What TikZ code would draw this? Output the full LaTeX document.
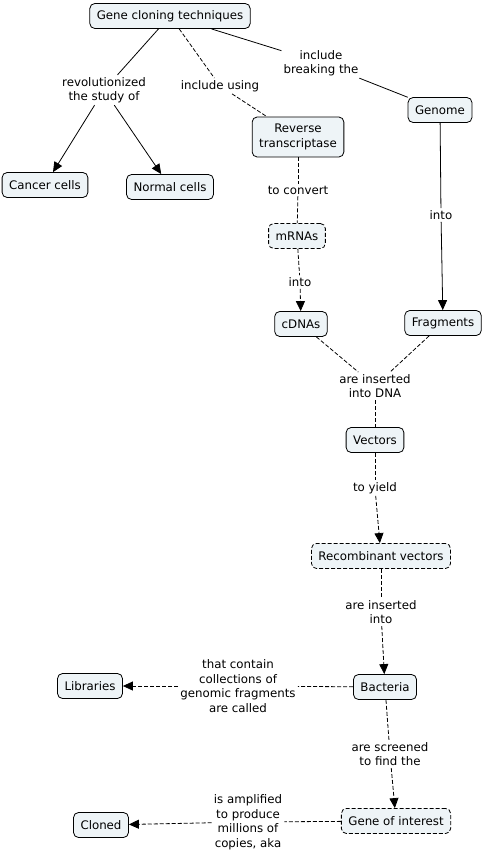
\documentclass[tikz,border=0pt]{standalone}
\usepackage{fontspec}
\setmainfont{DejaVu Sans}
\usepackage{tikz}
\usetikzlibrary{arrows.meta}
\usetikzlibrary{positioning}
\definecolor{conceptfill}{RGB}{238,244,247}
\begin{document}
\begin{tikzpicture}[x=1pt,y=-1pt,font=\fontsize{11.8pt}{14.5pt}\selectfont]
\tikzstyle{concept}=[draw,fill=conceptfill,rounded corners=5pt,line width=0.8pt,inner xsep=7pt,minimum height=25pt,align=center]
\tikzstyle{dconcept}=[concept,dash pattern=on 4pt off 2pt]
\tikzstyle{link}=[align=center,inner sep=2pt]
\tikzstyle{line}=[line width=0.8pt]
\tikzstyle{dline}=[line width=0.8pt,dash pattern=on 4pt off 2pt]
\tikzstyle{tip}=[-{Triangle[width=9pt,length=10pt]}]
\useasboundingbox (0,0) rectangle (485,853);
% concepts
\node[concept] (gene) at (170,16) {Gene cloning techniques};
\node[concept] (cancer) at (45,185) {Cancer cells};
\node[concept] (normal) at (170,187) {Normal cells};
\node[concept,minimum height=40pt] (rt) at (298,137) {Reverse\\transcriptase};
\node[concept] (genome) at (440,110) {Genome};
\node[dconcept] (mrna) at (297,236) {mRNAs};
\node[concept] (cdna) at (301,324) {cDNAs};
\node[concept] (frag) at (443,323) {Fragments};
\node[concept] (vect) at (375,440) {Vectors};
\node[dconcept] (recomb) at (381,556) {Recombinant vectors};
\node[concept] (bact) at (385,687) {Bacteria};
\node[concept] (lib) at (90,686) {Libraries};
\node[dconcept] (goi) at (396,821) {Gene of interest};
\node[concept] (cloned) at (101,825) {Cloned};
% linking phrases
\node[link] (revol) at (104,90) {revolutionized\\the study of};
\node[link] (using) at (220,86) {include using};
\node[link] (break) at (321,63) {include\\breaking the};
\node[link] (conv) at (298,190) {to convert};
\node[link] (into1) at (300,282) {into};
\node[link] (into2) at (441,215) {into};
\node[link] (dna) at (375,386) {are inserted\\into DNA};
\node[link] (yield) at (375,488) {to yield};
\node[link] (ins) at (381,612) {are inserted\\into};
\node[link] (contain) at (238,686) {that contain\\collections of\\genomic fragments\\are called};
\node[link] (screen) at (390,754) {are screened\\to find the};
\node[link] (ampl) at (248,822) {is amplified\\to produce\\millions of\\copies, aka};
% connectors
\draw[line] (gene) -- (revol);
\draw[line,tip] (revol) -- (cancer);
\draw[line,tip] (revol) -- (normal);
\draw[dline] (gene) -- (using);
\draw[dline] (using) -- (rt);
\draw[line] (gene) -- (break);
\draw[line] (break) -- (genome);
\draw[dline] (rt) -- (conv);
\draw[dline] (conv) -- (mrna);
\draw[dline] (mrna) -- (into1);
\draw[dline,tip] (into1) -- (cdna);
\draw[line] (genome) -- (into2);
\draw[line,tip] (into2) -- (frag);
\draw[dline] (cdna) -- (dna);
\draw[dline] (frag) -- (dna);
\draw[dline] (dna) -- (vect);
\draw[dline] (vect) -- (yield);
\draw[dline,tip] (yield) -- (recomb);
\draw[dline] (recomb) -- (ins);
\draw[dline,tip] (ins) -- (bact);
\draw[dline] (bact) -- (contain);
\draw[dline,tip] (contain) -- (lib);
\draw[dline] (bact) -- (screen);
\draw[dline,tip] (screen) -- (goi);
\draw[dline] (goi) -- (ampl);
\draw[dline,tip] (ampl) -- (cloned);
\end{tikzpicture}
\end{document}
